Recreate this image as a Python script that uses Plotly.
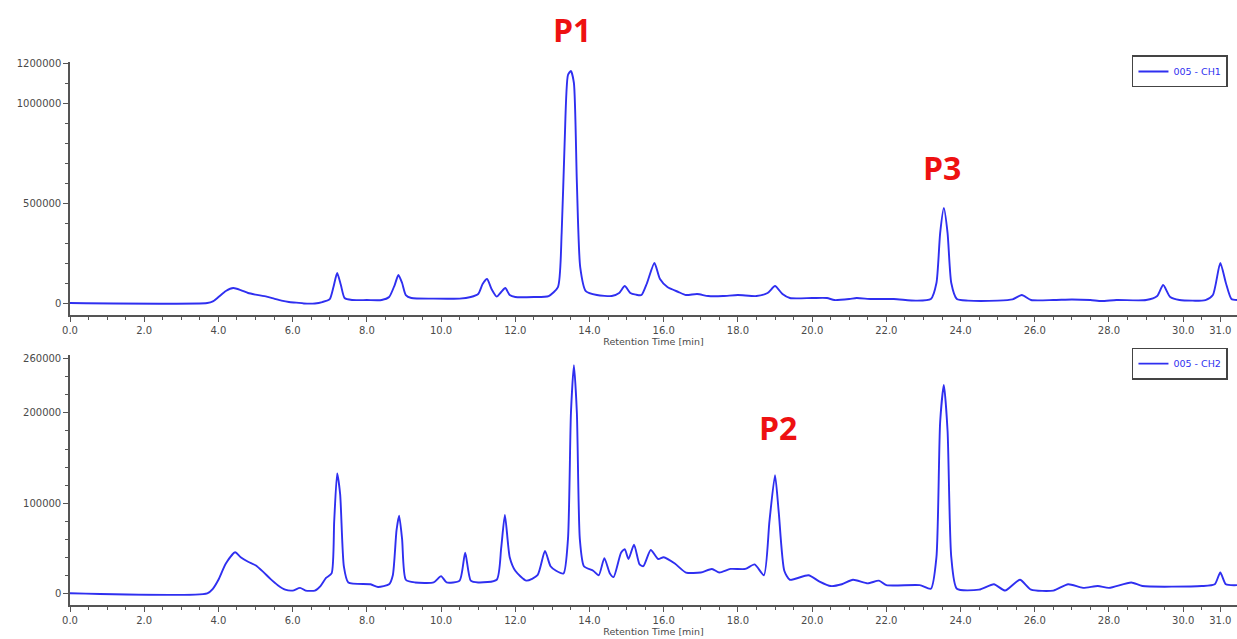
import plotly.graph_objects as go
from plotly.subplots import make_subplots

# ---- data (retention time in min, signal) ----
time_ch1 = [0.0, 3.7, 3.85, 4.0, 4.2, 4.4, 4.6, 4.8, 5.0, 5.3, 5.5, 5.7, 5.9, 6.1, 6.3, 6.6, 6.8,
            7.0, 7.1, 7.2, 7.3, 7.4, 7.6, 8.0, 8.4, 8.6, 8.75, 8.85, 8.95, 9.05, 9.2, 9.8, 10.5,
            10.8, 11.0, 11.12, 11.24, 11.36, 11.5, 11.62, 11.73, 11.85, 12.0, 12.5, 12.9, 13.15,
            13.25, 13.33, 13.42, 13.5, 13.58, 13.66, 13.75, 13.9, 14.2, 14.6, 14.8, 14.95, 15.1,
            15.25, 15.4, 15.55, 15.75, 15.9, 16.1, 16.4, 16.6, 16.9, 17.2, 17.6, 18.0, 18.5,
            18.8, 19.0, 19.2, 19.4, 20.0, 20.4, 20.6, 21.0, 21.2, 21.6, 22.2, 22.8, 23.2,
            23.35, 23.45, 23.55, 23.65, 23.75, 23.9, 24.2, 25.0, 25.4, 25.65, 25.9, 26.5,
            27.0, 27.5, 27.8, 28.2, 29.0, 29.3, 29.46, 29.65, 29.9, 30.6, 30.8, 31.0, 31.15,
            31.3, 31.45]
signal_ch1 = [0, 0, 8000, 30000, 60000, 75000, 65000, 50000, 42000, 32000, 22000, 12000, 5000,
              2000, -2000, -2000, 5000, 20000, 80000, 150000, 90000, 25000, 15000, 15000, 15000,
              30000, 90000, 140000, 100000, 40000, 25000, 22000, 22000, 30000, 45000, 95000,
              120000, 70000, 32000, 55000, 75000, 40000, 30000, 30000, 35000, 80000,
              350000, 800000, 1140000, 1160000, 1100000, 600000, 180000, 60000, 40000, 35000, 50000,
              85000, 50000, 42000, 40000, 100000, 200000, 120000, 80000, 55000, 40000, 45000,
              35000, 35000, 40000, 35000, 50000, 85000, 45000, 25000, 25000, 25000, 15000,
              20000, 25000, 20000, 20000, 12000, 20000, 100000, 350000, 475000, 350000, 100000,
              20000, 12000, 12000, 18000, 40000, 15000, 15000, 18000, 15000, 10000, 15000,
              15000, 35000, 90000, 30000, 15000, 15000, 40000, 200000, 100000, 20000, 15000]

time_ch2 = [0.0, 3.7, 3.85, 4.0, 4.2, 4.45, 4.6, 4.8, 5.0, 5.2, 5.4, 5.6, 5.8, 6.0, 6.2, 6.35,
            6.6, 6.75, 6.9, 7.05, 7.12, 7.2, 7.28, 7.38, 7.5, 8.1, 8.3, 8.6, 8.7, 8.8, 8.87,
            8.95, 9.05, 9.3, 9.8, 10.0, 10.15, 10.5, 10.65, 10.8, 11.0, 11.5, 11.62, 11.72,
            11.85, 12.0, 12.3, 12.6, 12.8, 12.95, 13.1, 13.3, 13.42, 13.5, 13.58, 13.66, 13.74,
            13.85, 14.1, 14.25, 14.4, 14.55, 14.65, 14.85, 14.95, 15.05, 15.2, 15.35, 15.45,
            15.65, 15.85, 16.0, 16.3, 16.6, 17.0, 17.3, 17.5, 17.8, 18.2, 18.45, 18.7, 18.85,
            19.0, 19.1, 19.25, 19.4, 19.9, 20.2, 20.5, 20.8, 21.1, 21.5, 21.8, 22.0, 22.9,
            23.2, 23.35, 23.45, 23.55, 23.65, 23.75, 23.9, 24.5, 24.9, 25.2, 25.6, 25.9, 26.5,
            26.9, 27.3, 27.7, 28.0, 28.6, 28.9, 30.5, 30.85, 31.0, 31.15, 31.45]
signal_ch2 = [0, 0, 5000, 15000, 33000, 45500, 40000, 35000, 31000, 24000, 16000, 9000, 4000,
              3000, 6000, 3000, 3000, 8000, 17000, 22000, 80000, 133000, 110000, 30000, 12000,
              10000, 7000, 10000, 20000, 70000, 86000, 60000, 15000, 12000, 12000, 19000, 12000,
              14000, 45000, 14000, 12000, 15000, 50000, 87000, 40000, 25000, 14000, 20000, 47000,
              30000, 25000, 22000, 60000, 200000, 253000, 200000, 60000, 30000, 25000, 20000,
              39000, 22000, 18000, 45000, 49000, 38000, 54000, 32000, 30000, 48000, 38000, 40000,
              33000, 23000, 23000, 27000, 23000, 27000, 27000, 32000, 20000, 80000, 131000,
              90000, 25000, 15000, 20000, 13000, 8000, 10000, 15000, 11000, 14000, 9000, 9000,
              5000, 40000, 190000, 231000, 180000, 40000, 5000, 4000, 10000, 3000, 15000, 4000,
              3000, 10000, 6000, 8000, 6000, 12000, 8000, 8000, 10000, 23000, 10000, 9000]

x_tick_vals = [0, 2, 4, 6, 8, 10, 12, 14, 16, 18, 20, 22, 24, 26, 28, 30, 31]
x_tick_text = ["0.0", "2.0", "4.0", "6.0", "8.0", "10.0", "12.0", "14.0", "16.0", "18.0",
               "20.0", "22.0", "24.0", "26.0", "28.0", "30.0", "31.0"]
y1_tick_vals = [0, 500000, 1000000, 1200000]
y2_tick_vals = [0, 100000, 200000, 260000]

peak_labels = ["P1", "P3", "P2"]
peak_times = [13.53, 23.5, 19.08]

# ---- figure ----
fig = make_subplots(rows=2, cols=1, shared_xaxes=False, vertical_spacing=0.07)

line_color = "#2f2ff0"
fig.add_trace(go.Scatter(x=time_ch1, y=signal_ch1, mode="lines", name="005 - CH1",
                         line=dict(color=line_color, width=1.9, shape="spline", smoothing=0.6),
                         legend="legend"), row=1, col=1)
fig.add_trace(go.Scatter(x=time_ch2, y=signal_ch2, mode="lines", name="005 - CH2",
                         line=dict(color=line_color, width=1.9, shape="spline", smoothing=0.6),
                         legend="legend2"), row=2, col=1)

tick_font = dict(family="DejaVu Sans", size=10, color="#4a4a4a")
minor_x = [i * 0.5 for i in range(0, 63)]

for ax in ("xaxis", "xaxis2"):
    fig.layout[ax].update(
        range=[0, 31.45], tickmode="array", tickvals=x_tick_vals, ticktext=x_tick_text,
        showline=True, linecolor="#555555", linewidth=1.5, ticks="outside", ticklen=5,
        tickcolor="#555555", tickwidth=1.3, showgrid=False, zeroline=False,
        tickfont=tick_font,
        minor=dict(tickmode="array", tickvals=minor_x, ticks="outside", ticklen=3,
                   tickcolor="#555555", tickwidth=1.3, showgrid=False),
        title=dict(text="Retention Time [min]", font=dict(family="DejaVu Sans", size=9.5,
                                                          color="#4a4a4a"), standoff=0),
        fixedrange=True,
    )

fig.layout.yaxis.update(
    range=[-60000, 1205000], tickmode="array", tickvals=y1_tick_vals,
    ticktext=[str(v) for v in y1_tick_vals],
    minor=dict(tickmode="array", tickvals=list(range(0, 1200001, 100000)), ticks="outside",
               ticklen=3, tickcolor="#555555", tickwidth=1.3, showgrid=False))
fig.layout.yaxis2.update(
    range=[-13000, 264000], tickmode="array", tickvals=y2_tick_vals,
    ticktext=[str(v) for v in y2_tick_vals],
    minor=dict(tickmode="array", tickvals=list(range(0, 260001, 20000)), ticks="outside",
               ticklen=3, tickcolor="#555555", tickwidth=1.3, showgrid=False))
for ax in ("yaxis", "yaxis2"):
    fig.layout[ax].update(showline=True, linecolor="#555555", linewidth=1.5, ticks="outside",
                          ticklen=5, tickcolor="#555555", tickwidth=1.3, showgrid=False,
                          zeroline=False, tickfont=tick_font, fixedrange=True)

fig.layout.yaxis.domain = [0.534, 1.0]
fig.layout.yaxis2.domain = [0.0, 0.46]

legend_style = dict(xanchor="left", x=0.91, yanchor="top", bgcolor="white",
                    bordercolor="#444444", borderwidth=1.5,
                    font=dict(family="DejaVu Sans", size=9.5, color="#2f2ff0"),
                    itemwidth=30, tracegroupgap=0)
fig.update_layout(
    legend=dict(y=1.012, **legend_style),
    legend2=dict(y=0.474, **legend_style),
)

annotation_y = [1.059, 0.805, 0.326]
for lab, t, yy in zip(peak_labels, peak_times, annotation_y):
    fig.add_annotation(text=lab, x=t, xref="x" if lab != "P2" else "x2", y=yy, yref="paper",
                       xanchor="center", yanchor="middle", showarrow=False,
                       font=dict(family="Open Sans", size=32, color="#ee1111", weight="bold"))

fig.update_layout(
    width=1237, height=639, autosize=False,
    margin=dict(l=70, r=0, t=62, b=34),
    paper_bgcolor="white", plot_bgcolor="white",
    showlegend=True,
)

fig.write_html(
    "out.html",
    config={"displayModeBar": False},
    post_script="document.body.style.margin='0px';document.body.style.overflow='hidden';",
)
